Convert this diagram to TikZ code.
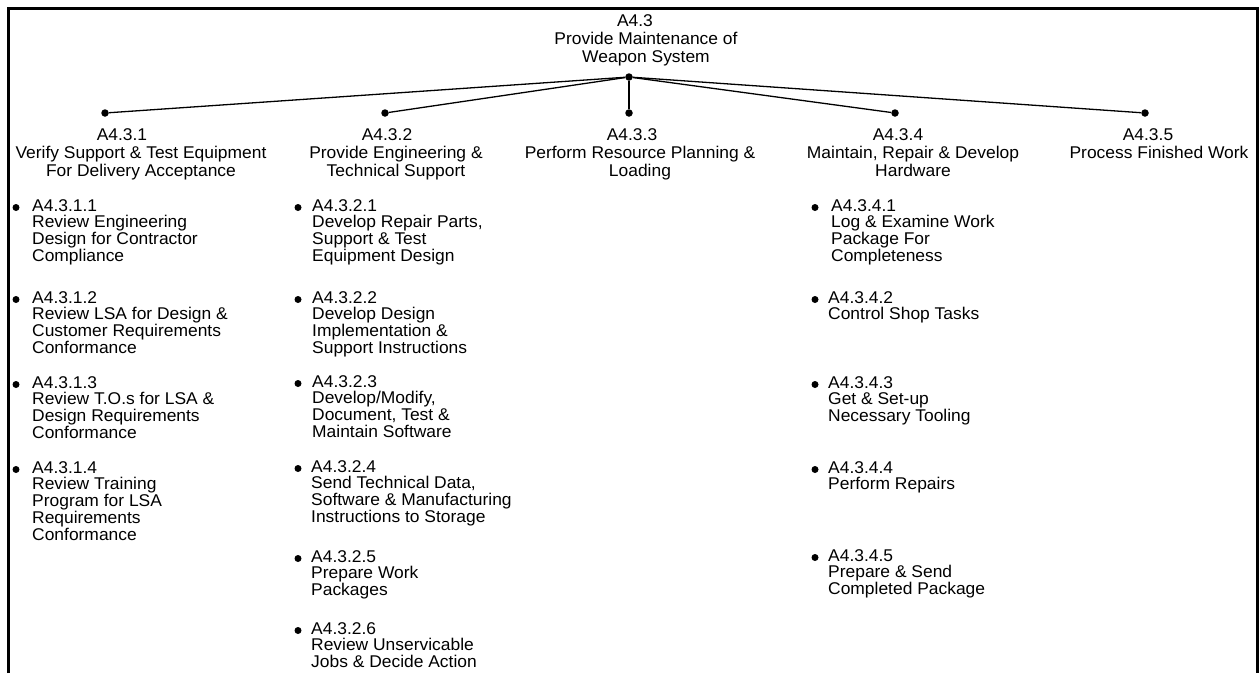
\documentclass[tikz,border=0pt]{standalone}
\usepackage{fontspec}
\setmainfont{Liberation Sans}[FakeStretch=1.025]
\begin{document}
\begin{tikzpicture}[x=1pt,y=-1pt,
  hub/.style={circle,fill=black,inner sep=0pt,minimum size=7.5pt},
  bul/.style={circle,fill=black,inner sep=0pt,minimum size=7pt},
  idtxt/.style={inner sep=0pt,anchor=base,font=\fontsize{17}{17.5}\selectfont},
  % multi-line texts are placed by the baseline of their last line
  head/.style={inner sep=0pt,anchor=base,align=center,font=\fontsize{17}{17.8}\selectfont},
  item/.style={inner sep=0pt,anchor=base west,align=left,font=\fontsize{17}{16.8}\selectfont},
  link/.style={line width=1.3pt}]
\useasboundingbox (0,0) rectangle (1259,673);
% frame, open at the bottom
\draw[line width=2.5pt] (8.7,673) -- (8.7,8.7) -- (1257.3,8.7) -- (1257.3,673);

% parent function
\node[idtxt] (pid) at (635,26.7) {A4.3};
\node[head] (pdesc) at (646,62.5) {Provide Maintenance of\\Weapon System};
\node[hub] (p) at (629,77) {};

% child functions
\node[hub] (c1) at (105,113) {};
\node[hub] (c2) at (385,113) {};
\node[hub] (c3) at (629,113) {};
\node[hub] (c4) at (895,113) {};
\node[hub] (c5) at (1145,113) {};
\foreach \c in {c1,c2,c3,c4,c5} \draw[link] (p) -- (\c);

\node[idtxt] (c1id) at (122,140.7) {A4.3.1};
\node[head] (c1desc) at (141,176.5) {Verify Support \& Test Equipment\\For Delivery Acceptance};
\node[idtxt] (c2id) at (387,140.7) {A4.3.2};
\node[head] (c2desc) at (396,176.5) {Provide Engineering \&\\Technical Support};
\node[idtxt] (c3id) at (632,140.7) {A4.3.3};
\node[head] (c3desc) at (640,176.5) {Perform Resource Planning \&\\Loading};
\node[idtxt] (c4id) at (898,140.7) {A4.3.4};
\node[head] (c4desc) at (913,176.5) {Maintain, Repair \& Develop\\Hardware};
\node[idtxt] (c5id) at (1148,140.7) {A4.3.5};
\node[head] (c5desc) at (1159,158.7) {Process Finished Work};

% sub-functions of A4.3.1
\node[bul] (b11) at (16,207.5) {};
\node[item] (t11) at (32,261.4) {A4.3.1.1\\Review Engineering\\Design for Contractor\\Compliance};
\node[bul] (b12) at (16,299.5) {};
\node[item] (t12) at (32,353.4) {A4.3.1.2\\Review LSA for Design \&\\Customer Requirements\\Conformance};
\node[bul] (b13) at (16,384.5) {};
\node[item] (t13) at (32,438.4) {A4.3.1.3\\Review T.O.s for LSA \&\\Design Requirements\\Conformance};
\node[bul] (b14) at (16,469.5) {};
\node[item] (t14) at (32,540.2) {A4.3.1.4\\Review Training\\Program for LSA\\Requirements\\Conformance};

% sub-functions of A4.3.2
\node[bul] (b21) at (298,207.5) {};
\node[item] (t21) at (312,261.4) {A4.3.2.1\\Develop Repair Parts,\\Support \& Test\\Equipment Design};
\node[bul] (b22) at (298,299.5) {};
\node[item] (t22) at (312,353.4) {A4.3.2.2\\Develop Design\\Implementation \&\\Support Instructions};
\node[bul] (b23) at (298,383.5) {};
\node[item] (t23) at (312,437.4) {A4.3.2.3\\Develop/Modify,\\Document, Test \&\\Maintain Software};
\node[bul] (b24) at (298,468.5) {};
\node[item] (t24) at (311,522.4) {A4.3.2.4\\Send Technical Data,\\Software \& Manufacturing\\Instructions to Storage};
\node[bul] (b25) at (298,558.5) {};
\node[item] (t25) at (311,595.6) {A4.3.2.5\\Prepare Work\\Packages};
\node[bul] (b26) at (298,630.5) {};
\node[item] (t26) at (311,667.6) {A4.3.2.6\\Review Unservicable\\Jobs \& Decide Action};

% sub-functions of A4.3.4
\node[bul] (b41) at (815,207.5) {};
\node[item] (t41) at (831,261.4) {A4.3.4.1\\Log \& Examine Work\\Package For\\Completeness};
\node[bul] (b42) at (815,299.5) {};
\node[item] (t42) at (828,319.8) {A4.3.4.2\\Control Shop Tasks};
\node[bul] (b43) at (815,384.5) {};
\node[item] (t43) at (828,421.6) {A4.3.4.3\\Get \& Set-up\\Necessary Tooling};
\node[bul] (b44) at (815,469.5) {};
\node[item] (t44) at (828,489.8) {A4.3.4.4\\Perform Repairs};
\node[bul] (b45) at (815,557.5) {};
\node[item] (t45) at (828,594.6) {A4.3.4.5\\Prepare \& Send\\Completed Package};
\end{tikzpicture}
\end{document}
